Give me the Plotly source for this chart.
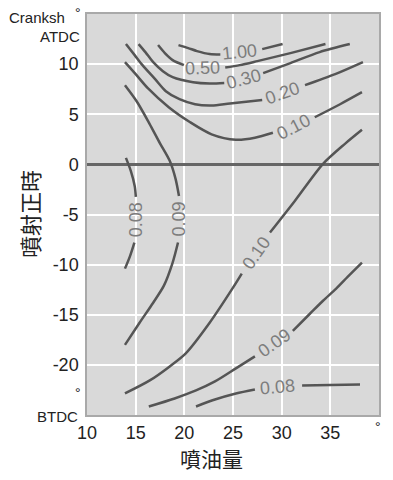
import plotly.graph_objects as go

# ---- data (x: 噴油量, y: 噴射正時); None = gap where the level label sits ----
c100_x = [19.4, 20.4, 21.3, 22.6, 23.7, None, 28.0, 30.1]
c100_y = [11.9, 11.6, 11.3, 11.0, 10.95, None, 11.5, 12.0]

c050_x = [17.3, 18.0, 18.8, 19.95, None, 24.2, 25.7, 27.5, 30.9, 34.5]
c050_y = [11.9, 11.1, 10.4, 9.9, None, 9.66, 9.9, 10.3, 11.1, 12.0]

c030_x = [15.3, 16.0, 16.8, 17.8, 18.8, 20.9, 22.6, 24.1, None, 28.1, 30.9, 33.9, 37.0]
c030_y = [12.0, 11.2, 10.2, 9.3, 8.7, 8.2, 8.07, 8.12, None, 9.1, 10.1, 11.2, 12.0]

c020_x = [14.0, 14.9, 15.7, 17.0, 18.1, 19.5, 21.1, 22.8, 24.7, 28.0, None, 32.4, 35.5, 38.35]
c020_y = [12.0, 10.9, 9.9, 8.5, 7.3, 6.5, 6.0, 5.88, 6.08, 6.42, None, 7.9, 9.0, 10.2]

c010a_x = [13.9, 15.0, 16.25, 18.4, 20.6, 22.8, 25.3, 27.25, 29.1, None, 33.4, 36.0, 38.25]
c010a_y = [10.2, 9.0, 7.6, 5.7, 4.2, 3.0, 2.45, 2.65, 3.15, None, 4.7, 6.0, 7.2]

c009a_x = [13.9, 15.1, 16.4, 17.5, 18.5, 19.1, 19.45, None, 19.35, 18.8, 17.9, 16.8, 15.4, 13.9]
c009a_y = [7.9, 6.3, 4.1, 2.1, 0.35, -1.45, -3.15, None, -7.8, -9.8, -12.1, -13.8, -15.8, -18.0]

c008a_x = [14.0, 14.5, 14.9, 15.02, None, 14.87, 14.4, 13.9]
c008a_y = [0.65, -0.65, -2.15, -3.25, None, -7.8, -9.2, -10.4]

c010b_x = [13.9, 16.45, 18.5, 20.15, 22.6, 25.0, 25.9, None, 28.8, 31.35, 34.25, 36.5, 38.25]
c010b_y = [-22.85, -21.55, -20.15, -18.85, -15.8, -12.3, -10.9, None, -6.8, -3.65, 0.05, 2.05, 3.45]

c009b_x = [16.35, 19.0, 21.2, 23.15, 25.3, 27.25, None, 31.15, 32.9, 34.25, 35.6, 36.8, 38.25]
c009b_y = [-24.15, -23.35, -22.55, -21.65, -20.35, -19.15, None, -16.6, -14.9, -13.6, -12.4, -11.2, -9.8]

c008b_x = [21.2, 23.15, 25.3, 27.25, None, 32.1, 35.0, 38.05]
c008b_y = [-24.15, -23.45, -22.85, -22.45, None, -22.05, -22.0, -21.95]

contour_x = [c100_x, c050_x, c030_x, c020_x, c010a_x, c009a_x, c008a_x, c010b_x, c009b_x, c008b_x]
contour_y = [c100_y, c050_y, c030_y, c020_y, c010a_y, c009a_y, c008a_y, c010b_y, c009b_y, c008b_y]

label_text = ["1.00", "0.50", "0.30", "0.20", "0.10", "0.09", "0.08", "0.10", "0.09", "0.08"]
label_x = [25.7, 21.9, 26.1, 30.1, 31.2, 19.5, 15.0, 27.4, 29.25, 29.6]
label_y = [11.2, 9.65, 8.55, 7.1, 3.75, -5.45, -5.5, -8.85, -17.85, -22.25]
label_angle = [-6, -2, -15, -20, -27, -90, -90, -55, -35, -5]

x_ticks = [10, 15, 20, 25, 30, 35]
y_ticks = [-20, -15, -10, -5, 0, 5, 10]
y_tick_text = ["-20", "-15", "-10", "-5", "0", "5", "10"]

BG = "#d9d9d9"
LINE = "#555555"
LABEL = "#7d7d7d"
LATIN = "Liberation Sans, Arial, sans-serif"
TICKFONT = dict(family=LATIN, size=18, color="#222222")
CJK = "Noto Sans CJK TC, Noto Sans CJK JP, sans-serif"

fig = go.Figure()
for cx, cy in zip(contour_x, contour_y):
    fig.add_trace(go.Scatter(x=cx, y=cy, mode="lines", connectgaps=False,
                             line=dict(color=LINE, width=2.5, shape="spline", smoothing=0.8),
                             hoverinfo="skip", showlegend=False))

for t, lx, ly, la in zip(label_text, label_x, label_y, label_angle):
    fig.add_annotation(x=lx, y=ly, xref="x", yref="y", text=t, textangle=la,
                       showarrow=False, font=dict(family=LATIN, size=18, color=LABEL))

side = [
    ("Cranksh", -0.0685, 0.9925, "right", 15),
    ("°", -0.031, 1.003, "center", 14),
    ("ATDC", -0.0171, 0.945, "right", 15),
    ("°", -0.031, 0.055, "center", 14),
    ("BTDC", -0.024, -0.0025, "right", 15),
    ("°", 0.9966, -0.030, "center", 14),
]
for t, px, py, xa, fs in side:
    fig.add_annotation(x=px, y=py, xref="paper", yref="paper", text=t, showarrow=False,
                       xanchor=xa, yanchor="middle",
                       font=dict(family=LATIN, size=fs, color="#222222"))

fig.add_annotation(x=0.428, y=-0.107, xref="paper", yref="paper", text="噴油量", showarrow=False,
                   xanchor="center", yanchor="middle", font=dict(family=CJK, size=21, color="#222222"))
fig.add_annotation(x=-0.2, y=0.5, xref="paper", yref="paper", text="噴射正時", showarrow=False,
                   textangle=-90, xanchor="center", yanchor="middle",
                   font=dict(family=CJK, size=22, color="#222222"))

fig.update_layout(
    width=393, height=480,
    margin=dict(l=87, r=14, t=14, b=65),
    paper_bgcolor="white", plot_bgcolor=BG,
    showlegend=False,
)
fig.update_xaxes(range=[10, 40], tickvals=x_ticks, ticks="", showgrid=True, gridcolor="white", gridwidth=2,
                 zeroline=False, showline=True, mirror=True, linecolor="#a9a9a9", linewidth=1.5,
                 tickfont=TICKFONT, automargin=False, ticklabelstandoff=1)
fig.update_yaxes(range=[-25, 15], tickvals=y_ticks, ticktext=y_tick_text, ticks="", showgrid=True,
                 gridcolor="white", gridwidth=2,
                 zeroline=True, zerolinecolor="#666666", zerolinewidth=2.5,
                 showline=True, mirror=True, linecolor="#a9a9a9", linewidth=1.5,
                 tickfont=TICKFONT, automargin=False, ticklabelstandoff=3)

fig.write_html("out.html")
